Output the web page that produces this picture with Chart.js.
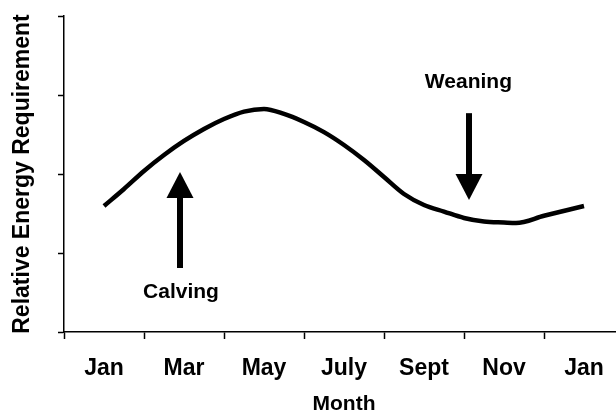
<!DOCTYPE html>
<html>
<head>
<meta charset="utf-8">
<script src="https://cdn.jsdelivr.net/npm/chart.js@4/dist/chart.umd.min.js"></script>
<style>
html,body{margin:0;padding:0;background:#fff;overflow:hidden;width:616px;height:413px;}
#wrap{width:640px;height:413px;}
</style>
</head>
<body>
<div id="wrap"><canvas id="c" width="640" height="413"></canvas></div>
<script>
// Category tick labels (every second month)
const monthLabels = ['Jan', 'Mar', 'May', 'July', 'Sept', 'Nov', 'Jan'];
// Curve samples: month index (0 = first Jan, 12 = next Jan)
const curveMonths = [0, 0.5, 1, 1.5, 2, 2.5, 3, 3.5, 4, 4.5, 5, 5.5, 6, 6.5, 7, 7.5, 8, 8.5, 9, 9.5, 10, 10.3, 11, 12];
// Relative energy requirement (axis units 0..4)
const energy = [1.595, 1.81, 2.038, 2.24, 2.418, 2.57, 2.696, 2.79, 2.823, 2.76, 2.658, 2.53, 2.367, 2.177, 1.962, 1.747, 1.608, 1.525, 1.443, 1.399, 1.386, 1.38, 1.471, 1.595];
// Y tick values
const yTicks = [0, 1, 2, 3, 4];
// Annotations (data units)
const arrows = [
  {label: 'Calving', x: 1.9, from: 0.81, to: 2.025, labelX: 1.925, labelY: 0.43},
  {label: 'Weaning', x: 9.125, from: 2.77, to: 1.67, labelX: 9.11, labelY: 3.09}
];

const FONT = '"Liberation Sans", Arial, Helvetica, sans-serif';

const arrowPlugin = {
  id: 'arrows',
  afterDatasetsDraw(chart) {
    const ctx = chart.ctx;
    const xs = chart.scales.xl, ys = chart.scales.y;
    ctx.save();
    arrows.forEach(a => {
      const x = xs.getPixelForValue(a.x);
      const y0 = ys.getPixelForValue(a.from);
      const y1 = ys.getPixelForValue(a.to);
      const dir = y1 < y0 ? -1 : 1;
      const headLen = 26, halfW = 13.5;
      const yb = y1 - dir * headLen;
      ctx.strokeStyle = '#000';
      ctx.lineWidth = 6;
      ctx.lineCap = 'butt';
      ctx.beginPath();
      ctx.moveTo(x, y0);
      ctx.lineTo(x, yb + dir * 1);
      ctx.stroke();
      ctx.fillStyle = '#000';
      ctx.beginPath();
      ctx.moveTo(x, y1);
      ctx.lineTo(x - halfW, yb);
      ctx.lineTo(x + halfW, yb);
      ctx.closePath();
      ctx.fill();
      ctx.font = 'bold 21px ' + FONT;
      ctx.textAlign = 'center';
      ctx.textBaseline = 'alphabetic';
      ctx.fillText(a.label, xs.getPixelForValue(a.labelX), ys.getPixelForValue(a.labelY));
    });
    ctx.restore();
  }
};

new Chart(document.getElementById('c'), {
  type: 'line',
  data: {
    labels: monthLabels,
    datasets: [{
      data: curveMonths.map((m, i) => ({x: m, y: energy[i]})),
      xAxisID: 'xl',
      yAxisID: 'y',
      borderColor: '#000',
      borderWidth: 4.5,
      pointRadius: 0,
      fill: false,
      cubicInterpolationMode: 'monotone',
      borderCapStyle: 'butt'
    }]
  },
  options: {
    responsive: false,
    animation: false,
    events: [],
    layout: {padding: {left: 0, top: 16, right: 16, bottom: 0}},
    plugins: {legend: {display: false}, tooltip: {enabled: false}},
    scales: {
      x: {
        type: 'category',
        position: 'bottom',
        offset: true,
        grid: {offset: true, drawOnChartArea: false, drawTicks: true, tickLength: 7, tickColor: '#000', tickWidth: 1.5},
        border: {display: true, color: '#000', width: 1.5},
        ticks: {color: '#000', font: {family: FONT, size: 23, weight: 'bold'}, padding: 16, maxRotation: 0, autoSkip: false},
        title: {display: true, text: 'Month', color: '#000', font: {family: FONT, size: 21, weight: 'bold', lineHeight: 0.8}, padding: {top: 0, bottom: 0}},
        afterFit(s) { s.height = 81; }
      },
      xl: {
        type: 'linear',
        display: false,
        min: -1,
        max: 13
      },
      y: {
        type: 'linear',
        position: 'left',
        min: yTicks[0],
        max: yTicks[yTicks.length - 1],
        afterBuildTicks(s) { s.ticks = yTicks.map(v => ({value: v})); },
        grid: {drawOnChartArea: false, drawTicks: true, tickLength: 6, tickColor: '#000', tickWidth: 1.5},
        border: {display: true, color: '#000', width: 1.5},
        ticks: {display: false},
        title: {display: true, text: 'Relative Energy Requirement', color: '#000', font: {family: FONT, size: 23, weight: 'bold', lineHeight: 1.2}, padding: {top: 9, bottom: 0}},
        afterFit(s) { s.width = 64; }
      }
    }
  },
  plugins: [arrowPlugin]
});
</script>
</body>
</html>
